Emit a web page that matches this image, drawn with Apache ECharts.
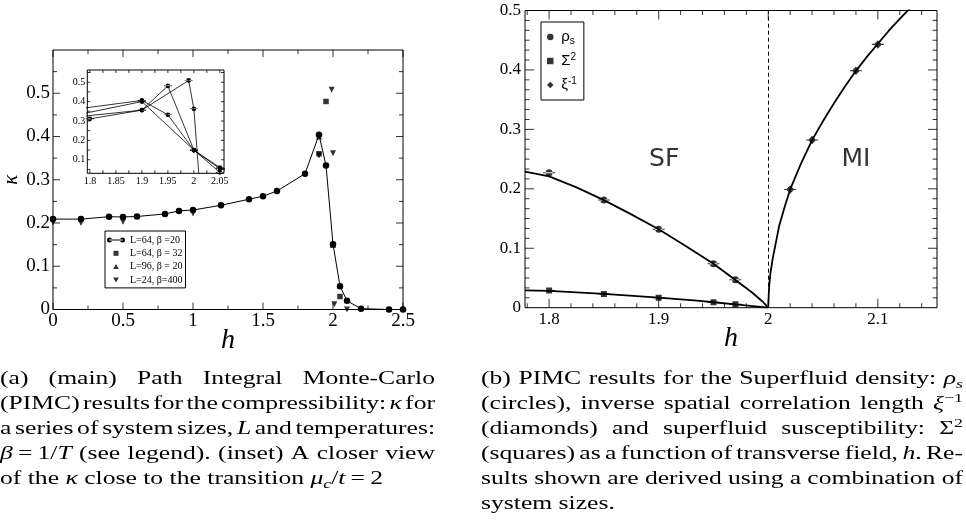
<!DOCTYPE html>
<html>
<head>
<meta charset="utf-8">
<script src="https://cdn.jsdelivr.net/npm/echarts@6/dist/echarts.min.js"></script>
<style>
  html, body { margin: 0; padding: 0; background: #fff; }
  #c { width: 966px; height: 523px; }
</style>
</head>
<body>
<div id="c"></div>
<script>
// ---------- (a) compressibility kappa vs h : main panel ----------
const hL64b20 = [0, 0.2, 0.4, 0.5, 0.6, 0.8, 0.9, 1.0, 1.2, 1.4, 1.5, 1.6, 1.8, 1.9, 1.95, 2.0, 2.05, 2.1, 2.2, 2.4, 2.5];
const kL64b20 = [0.209, 0.209, 0.2145, 0.214, 0.215, 0.221, 0.228, 0.230, 0.241, 0.255, 0.262, 0.274, 0.314, 0.404, 0.333, 0.151, 0.054, 0.020, 0.002, 0.0, 0.0];
const hL64b32 = [1.9, 1.95, 2.0, 2.05];
const kL64b32 = [0.36, 0.481, 0.15, 0.03];
const hL96b20 = [1.9, 2.0, 2.05];
const kL96b20 = [0.40, 0.15, 0.055];
const hL24b400 = [0, 0.2, 0.5, 1.0, 1.9, 1.99, 2.0, 2.01, 2.1];
const kL24b400 = [0.201, 0.2, 0.203, 0.222, 0.356, 0.508, 0.361, 0.012, 0.0];

// ---------- (a) inset: close to the transition ----------
const insetHL64b20 = [1.7, 1.9, 1.95, 2.0, 2.05, 2.1];
const insetKL64b20 = [0.335, 0.406, 0.332, 0.149, 0.054, 0.02];
const insetHL96b20 = [1.7, 1.9, 2.0, 2.05, 2.1];
const insetKL96b20 = [0.29, 0.40, 0.15, 0.06, 0.03];
const insetHL64b32 = [1.7, 1.9, 1.95, 2.0, 2.05];
const insetKL64b32 = [0.30, 0.356, 0.481, 0.15, 0.035];
const insetHL24b400 = [1.8, 1.9, 1.99, 2.0, 2.01];
const insetKL24b400 = [0.311, 0.356, 0.509, 0.363, 0.012];

// ---------- (b) order parameters vs transverse field ----------
const rhoH = [1.8, 1.85, 1.9, 1.95, 1.97];
const rhoS = [0.227, 0.181, 0.132, 0.074, 0.047];
const sigH = [1.8, 1.85, 1.9, 1.95, 1.97];
const sig2 = [0.029, 0.023, 0.0167, 0.0092, 0.0058];
const xiH = [2.02, 2.04, 2.08, 2.1];
const xiInv = [0.199, 0.282, 0.3985, 0.443];
// fitted curves
const rhoFitH = [1.778, 1.8, 1.825, 1.85, 1.875, 1.9, 1.925, 1.95, 1.97, 1.985, 1.995, 2.0];
const rhoFit = [0.229, 0.221, 0.2025, 0.181, 0.157, 0.132, 0.1035, 0.074, 0.0466, 0.026, 0.01, 0];
const sigFitH = [1.778, 1.8, 1.85, 1.9, 1.935, 1.95, 1.97, 2.0];
const sigFit = [0.0292, 0.0283, 0.0233, 0.0168, 0.0118, 0.0092, 0.0057, 0];
const xiFitH = [2.0, 2.0005, 2.001, 2.002, 2.004, 2.007, 2.01, 2.015, 2.02, 2.03, 2.04, 2.05, 2.06, 2.07, 2.08, 2.09, 2.1, 2.11, 2.12, 2.13];
const xiFit = [0, 0.025, 0.04, 0.058, 0.082, 0.11, 0.138, 0.17, 0.199, 0.243, 0.282, 0.314, 0.344, 0.372, 0.3985, 0.422, 0.444, 0.466, 0.486, 0.505];
const hCritical = 2.0;
const phaseLabels = [[1.905, 0.249, 'SF'], [2.08, 0.249, 'MI']];

// ---------- tick values ----------
const mainXMajor = [0, 0.5, 1, 1.5, 2, 2.5];
const mainXMinor = [0.25, 0.75, 1.25, 1.75, 2.25];
const mainYMajor = [0.1, 0.2, 0.3, 0.4, 0.5];
const mainYMinor = [0.05, 0.15, 0.25, 0.35, 0.45, 0.55];
const insetXLabels = [1.8, 1.85, 1.9, 1.95, 2, 2.05];
const insetXTicks = [1.8, 1.825, 1.85, 1.875, 1.9, 1.925, 1.95, 1.975, 2, 2.025, 2.05];
const insetYLabels = [0.1, 0.2, 0.3, 0.4, 0.5];
const insetYTicks = [0.05, 0.1, 0.15, 0.2, 0.25, 0.3, 0.35, 0.4, 0.45, 0.5, 0.55];
const rightXLabels = [1.8, 1.9, 2, 2.1];
const rightXMinor = [1.78, 1.82, 1.84, 1.86, 1.88, 1.92, 1.94, 1.96, 1.98, 2.02, 2.04, 2.06, 2.08, 2.12, 2.14];
const rightYMajor = [0.1, 0.2, 0.3, 0.4];
const rightYMinorPerMajor = 6;

// ---------- captions ----------
const captionA = [
  { justify: true, words: ['(a)', '(main)', 'Path', 'Integral', 'Monte-Carlo'] },
  { justify: true, words: ['(PIMC)', 'results', 'for', 'the', 'compressibility:', '{i|κ}', 'for'] },
  { justify: true, words: ['a', 'series', 'of', 'system', 'sizes,', '{i|L}', 'and', 'temperatures:'] },
  { justify: true, words: ['{i|β}\u2009=\u20091/{i|T}', '(see', 'legend).', '(inset)', 'A', 'closer', 'view'] },
  { justify: false, words: ['of', 'the', '{i|κ}', 'close', 'to', 'the', 'transition', '{i|μ}{sub|c}/{i|t}\u2009=\u20092'] }
];
const captionB = [
  { justify: true, words: ['(b)', 'PIMC', 'results', 'for', 'the', 'Superfluid', 'density:', '{i|ρ}{sub|s}'] },
  { justify: true, words: ['(circles),', 'inverse', 'spatial', 'correlation', 'length', '{i|ξ}{sup|−1}'] },
  { justify: true, words: ['(diamonds)', 'and', 'superfluid', 'susceptibility:', 'Σ{sup|2}'] },
  { justify: true, words: ['(squares)', 'as', 'a', 'function', 'of', 'transverse', 'field,', '{i|h}.', 'Re-'] },
  { justify: true, words: ['sults', 'shown', 'are', 'derived', 'using', 'a', 'combination', 'of'] },
  { justify: false, words: ['system', 'sizes.'] }
];

// ---------- helpers ----------
const zip = (xs, ys) => xs.map((x, i) => [x, ys[i]]);
const SERIF = 'Liberation Serif';
const BLACK = '#000';

const CIRCLE_BAR = 'path://M0,3.5h12v1h-12z M2.5,4a3.5,3.5 0 1,0 7,0a3.5,3.5 0 1,0 -7,0z';
const SQUARE_BAR = 'path://M0,3.5h12v1h-12z M3,1h6v6h-6z';
const DIAMOND_BAR = 'path://M0,3.5h12v1h-12z M6,0L10,4L6,8L2,4z';
const SQUARE = 'path://M0,0h6v6h-6z';
const TRI_UP = 'path://M5,0L10,8.66H0z';
const TRI_DOWN = 'path://M0,0h10l-5,8.66z';
const DIAMOND = 'path://M4,0L8,4L4,8L0,4z';
const LINE_DOTS = 'path://M0,2.5a2.5,2.5 0 1,0 5,0a2.5,2.5 0 1,0 -5,0z M2.5,2h13v1h-13z M13,2.5a2.5,2.5 0 1,0 5,0a2.5,2.5 0 1,0 -5,0z';

// text measuring for the justified captions
const segStyle = {
  n: { italic: false, size: 18, dy: 0 },
  i: { italic: true, size: 18, dy: 0 },
  sub: { italic: true, size: 12.5, dy: 4 },
  sup: { italic: false, size: 12.5, dy: -7.5 }
};
const mctx = document.createElement('canvas').getContext('2d');
const fontOf = st => (st.italic ? 'italic ' : '') + st.size + 'px "' + SERIF + '"';
function parseToken(tok) {
  const out = [];
  const re = /\{(\w+)\|([^}]*)\}|([^{]+)/g;
  let m;
  while ((m = re.exec(tok))) out.push(m[3] !== undefined ? { k: 'n', t: m[3] } : { k: m[1], t: m[2] });
  return out;
}
function segWidth(seg) { mctx.font = fontOf(segStyle[seg.k]); return mctx.measureText(seg.t).width; }
function tokWidth(tok) { return parseToken(tok).reduce((a, s) => a + segWidth(s), 0); }
function spaceWidth() { mctx.font = fontOf(segStyle.n); return mctx.measureText(' ').width; }
function naturalWidth(line) {
  return line.words.reduce((a, w) => a + tokWidth(w), 0) + spaceWidth() * (line.words.length - 1);
}
// horizontal stretch so the serif face sets as wide as the typeset caption
const capScale = 383 / naturalWidth(captionA[captionA.length - 1]);

function layoutCaption(lines, x0, width, base0, step, out) {
  const sp = spaceWidth() * capScale;
  lines.forEach((ln, r) => {
    const ws = ln.words.map(w => tokWidth(w) * capScale);
    const total = ws.reduce((a, b) => a + b, 0);
    const gap = ln.justify && ws.length > 1 ? (width - total) / (ws.length - 1) : sp;
    const base = base0 + r * step;
    let x = x0;
    ln.words.forEach((w, k) => {
      let sx = x;
      parseToken(w).forEach(seg => {
        const st = segStyle[seg.k];
        out.push({
          type: 'text', x: sx, y: base + st.dy - 0.34 * st.size, scaleX: capScale, silent: true,
          style: { text: seg.t, font: fontOf(st), fill: BLACK, align: 'left', verticalAlign: 'middle' }
        });
        sx += segWidth(seg) * capScale;
      });
      x += ws[k] + gap;
    });
  });
}
const captionGraphics = [];
layoutCaption(captionA, 0, 435, 385, 25.1, captionGraphics);
layoutCaption(captionB, 481, 482, 385, 25.1, captionGraphics);

// ---------- layout ----------
const GRID_MAIN = { left: 48.3, top: 50, width: 354.7, height: 259.5 };
const GRID_INSET = { left: 87.3, top: 70, width: 136.7, height: 103.3 };
const GRID_RIGHT = { left: 525, top: 10.5, width: 412, height: 297.2 };
const MAIN_X = [0, 2.5], MAIN_Y = [0, 0.6];
const INSET_X = [1.795, 2.058], INSET_Y = [0.03, 0.563];
const RIGHT_X = [1.778, 2.154], RIGHT_Y = [0, 0.5];
const frameGrid = { show: true, borderColor: BLACK, borderWidth: 1, backgroundColor: 'transparent' };

function labelAxis(gridIndex, range, extra) {
  return Object.assign({
    type: 'value', gridIndex, min: range[0], max: range[1],
    splitLine: { show: false },
    axisLine: { show: false, onZero: false },
    axisTick: { show: false }
  }, extra);
}
const labelStyle = (size, margin, extra) => Object.assign({ show: true, color: BLACK, fontFamily: SERIF, fontSize: size, margin }, extra || {});
const hName = gap => ({
  name: 'h', nameLocation: 'middle', nameGap: gap, nameMoveOverlap: false,
  nameTextStyle: { fontFamily: SERIF, fontStyle: 'italic', fontSize: 28, color: BLACK }
});

const xAxes = [
  labelAxis(0, MAIN_X, Object.assign({ position: 'bottom', interval: 0.5, axisLabel: labelStyle(19, 2) }, hName(17))),
  labelAxis(1, INSET_X, { position: 'bottom', axisLabel: labelStyle(10, 3, { customValues: insetXLabels }) }),
  labelAxis(2, RIGHT_X, Object.assign({ position: 'bottom', axisLabel: labelStyle(17, 3, { customValues: rightXLabels }) }, hName(17)))
];
const yAxes = [
  labelAxis(0, MAIN_Y, {
    position: 'left', interval: 0.1,
    axisLabel: labelStyle(19, 3, { formatter: v => (v > 0.55 ? '' : String(+v.toFixed(2))) }),
    name: 'κ', nameLocation: 'middle', nameGap: 31, nameRotate: 90, nameMoveOverlap: false,
    nameTextStyle: { fontFamily: SERIF, fontStyle: 'italic', fontSize: 21, color: BLACK }
  }),
  labelAxis(1, INSET_Y, { position: 'left', axisLabel: labelStyle(10, 2, { customValues: insetYLabels }) }),
  labelAxis(2, RIGHT_Y, { position: 'left', interval: 0.1, axisLabel: labelStyle(17, 4, { formatter: v => String(+v.toFixed(2)) }) })
];

// ---------- inward frame ticks, placed on the axes as short bars ----------
function frameTickSeries(axisIndex, xRange, yRange, xSets, ySets) {
  const data = [];
  xSets.forEach(([vals, len]) => vals.forEach(v => {
    data.push({ value: [v, yRange[0]], symbolSize: [1, len], symbolOffset: [0, -len / 2] });
    data.push({ value: [v, yRange[1]], symbolSize: [1, len], symbolOffset: [0, len / 2] });
  }));
  ySets.forEach(([vals, len]) => vals.forEach(v => {
    data.push({ value: [xRange[0], v], symbolSize: [len, 1], symbolOffset: [len / 2, 0] });
    data.push({ value: [xRange[1], v], symbolSize: [len, 1], symbolOffset: [-len / 2, 0] });
  }));
  return {
    type: 'scatter', xAxisIndex: axisIndex, yAxisIndex: axisIndex, data, symbol: 'rect',
    itemStyle: { color: BLACK }, silent: true, clip: false, zlevel: 1, z: 10,
    emphasis: { disabled: true }
  };
}
const rightYMinor = [];
for (let k = 1; k < 30; k++) if (k % rightYMinorPerMajor) rightYMinor.push(k / 60);

// ---------- series ----------
const black = { color: BLACK };
function insetLine(name, xs, ys) {
  return {
    name, type: 'line', xAxisIndex: 1, yAxisIndex: 1, data: zip(xs, ys), clip: true,
    symbol: CIRCLE_BAR, symbolSize: [8, 4.7], showAllSymbol: true,
    lineStyle: { color: BLACK, width: 0.8 }, itemStyle: black, silent: true, z: 5
  };
}
const fitLine = (xs, ys) => ({
  type: 'line', xAxisIndex: 2, yAxisIndex: 2, data: zip(xs, ys), showSymbol: false, clip: true,
  lineStyle: { color: BLACK, width: 1.8 }, silent: true
});

const series = [
  { name: 'L=64, β =20', type: 'line', xAxisIndex: 0, yAxisIndex: 0, data: zip(hL64b20, kL64b20),
    symbol: 'circle', symbolSize: 6.5, showAllSymbol: true,
    lineStyle: { color: BLACK, width: 1 }, itemStyle: black, silent: true },
  { name: 'L=64, β = 32', type: 'scatter', xAxisIndex: 0, yAxisIndex: 0, data: zip(hL64b32, kL64b32),
    symbol: 'rect', symbolSize: 5.5, itemStyle: black, silent: true },
  { name: 'L=96, β = 20', type: 'scatter', xAxisIndex: 0, yAxisIndex: 0, data: zip(hL96b20, kL96b20),
    symbol: 'triangle', symbolSize: 6, itemStyle: black, silent: true },
  { name: 'L=24, β=400', type: 'scatter', xAxisIndex: 0, yAxisIndex: 0, data: zip(hL24b400, kL24b400),
    symbol: 'triangle', symbolRotate: 180, symbolSize: 6, itemStyle: black, silent: true },

  insetLine('L=64, β =20', insetHL64b20, insetKL64b20),
  insetLine('L=96, β = 20', insetHL96b20, insetKL96b20),
  insetLine('L=64, β = 32', insetHL64b32, insetKL64b32),
  insetLine('L=24, β=400', insetHL24b400, insetKL24b400),

  fitLine(rhoFitH, rhoFit),
  fitLine(sigFitH, sigFit),
  Object.assign(fitLine(xiFitH, xiFit), {
    markLine: { silent: true, symbol: 'none', label: { show: false },
      lineStyle: { color: BLACK, width: 1, type: [4, 3] }, data: [{ xAxis: hCritical }] }
  }),
  { name: 'ρs', type: 'scatter', xAxisIndex: 2, yAxisIndex: 2, data: zip(rhoH, rhoS),
    symbol: CIRCLE_BAR, symbolSize: [12, 7], itemStyle: black, silent: true, z: 4 },
  { name: 'Σ2', type: 'scatter', xAxisIndex: 2, yAxisIndex: 2, data: zip(sigH, sig2),
    symbol: SQUARE_BAR, symbolSize: [12, 6], itemStyle: black, silent: true, z: 4 },
  { name: 'ξ-1', type: 'scatter', xAxisIndex: 2, yAxisIndex: 2, data: zip(xiH, xiInv),
    symbol: DIAMOND_BAR, symbolSize: [12, 8.5], itemStyle: black, silent: true, z: 4 },
  { type: 'scatter', xAxisIndex: 2, yAxisIndex: 2, data: phaseLabels, symbolSize: 0, silent: true,
    label: { show: true, position: 'inside', formatter: p => p.data[2],
      fontFamily: 'DejaVu Sans', fontSize: 25, color: BLACK } },

  frameTickSeries(0, MAIN_X, MAIN_Y, [[mainXMajor, 7], [mainXMinor, 4]], [[mainYMajor, 7], [mainYMinor, 4]]),
  frameTickSeries(1, INSET_X, INSET_Y, [[insetXTicks, 3]], [[insetYTicks, 3]]),
  frameTickSeries(2, RIGHT_X, RIGHT_Y, [[rightXLabels, 9], [rightXMinor, 4.5]], [[rightYMajor, 9], [rightYMinor, 4.5]])
];

const legendNames = { 'ρs': '{g|ρ}{sub|s}', 'Σ2': '{g|Σ}{sup|2}', 'ξ-1': '{g|ξ}{sup|-1}' };

const option = {
  animation: false,
  backgroundColor: '#fff',
  grid: [
    Object.assign({}, GRID_MAIN, frameGrid),
    Object.assign({}, GRID_INSET, frameGrid, { backgroundColor: '#fff' }),
    Object.assign({}, GRID_RIGHT, frameGrid)
  ],
  xAxis: xAxes,
  yAxis: yAxes,
  legend: [
    {
      orient: 'vertical', left: 105, top: 231, selectedMode: false,
      data: [
        { name: 'L=64, β =20', icon: LINE_DOTS },
        { name: 'L=64, β = 32', icon: SQUARE },
        { name: 'L=96, β = 20', icon: TRI_UP },
        { name: 'L=24, β=400', icon: TRI_DOWN }
      ],
      itemWidth: 18, itemHeight: 5, itemGap: 1.3, padding: [3, 3, 2, 2],
      borderColor: BLACK, borderWidth: 1, backgroundColor: '#fff',
      textStyle: { fontFamily: SERIF, fontSize: 10, color: BLACK, lineHeight: 12 }
    },
    {
      orient: 'vertical', left: 541, top: 22, selectedMode: false,
      data: [
        { name: 'ρs', icon: 'circle' },
        { name: 'Σ2', icon: SQUARE },
        { name: 'ξ-1', icon: DIAMOND }
      ],
      itemWidth: 12, itemHeight: 6.5, itemGap: 6, padding: [6, 7, 6, 6],
      borderColor: BLACK, borderWidth: 1, backgroundColor: '#fff',
      formatter: n => legendNames[n],
      textStyle: {
        color: BLACK, fontFamily: 'Liberation Sans', fontSize: 15, lineHeight: 18,
        rich: {
          g: { fontFamily: 'Liberation Sans', fontSize: 15, lineHeight: 18, color: BLACK },
          sub: { fontFamily: 'Liberation Sans', fontSize: 10, lineHeight: 10, verticalAlign: 'bottom', color: BLACK },
          sup: { fontFamily: 'Liberation Sans', fontSize: 10, lineHeight: 10, verticalAlign: 'top', color: BLACK }
        }
      }
    }
  ],
  series,
  graphic: captionGraphics
};

const chart = echarts.init(document.getElementById('c'), null, { renderer: 'canvas', width: 966, height: 523 });
chart.setOption(option);
</script>
</body>
</html>
